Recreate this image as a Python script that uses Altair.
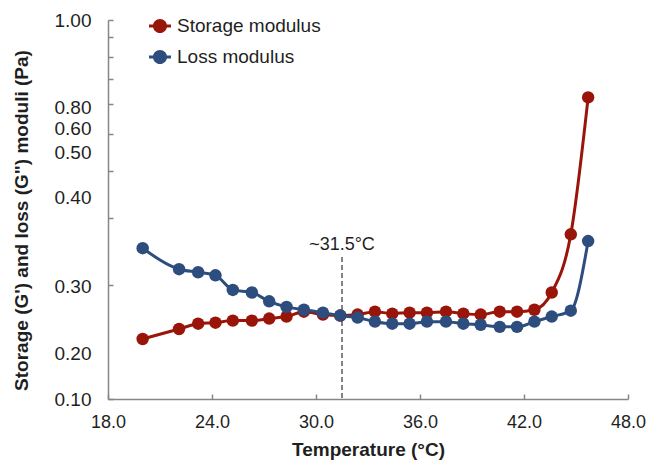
import altair as alt
import pandas as pd

# Temperature sweep (°C) and measured moduli (Pa)
temperature = [20.0, 22.1, 23.2, 24.2, 25.2, 26.3, 27.3, 28.3, 29.3, 30.4, 31.4, 32.4, 33.4,
               34.4, 35.4, 36.4, 37.5, 38.5, 39.5, 40.6, 41.6, 42.6, 43.6, 44.7, 45.7]
storage_modulus = [0.144, 0.153, 0.158, 0.159, 0.161, 0.161, 0.163, 0.165, 0.170, 0.167, 0.166,
                   0.167, 0.170, 0.168, 0.169, 0.169, 0.170, 0.168, 0.167, 0.170, 0.170, 0.172,
                   0.191, 0.272, 0.625]
loss_modulus = [0.250, 0.220, 0.216, 0.212, 0.194, 0.191, 0.181, 0.175, 0.172, 0.169, 0.166,
                0.164, 0.160, 0.158, 0.158, 0.160, 0.160, 0.158, 0.157, 0.155, 0.155, 0.160,
                0.165, 0.171, 0.261]

series_names = ["Storage modulus", "Loss modulus"]
series_colors = ["#9A1509", "#2C4D7D"]

# Axis ticks and labels
x_ticks = [18, 24, 30, 36, 42, 48]
y_minor_ticks = [0.1, 0.2, 0.3, 0.4, 0.5, 0.6, 0.7, 0.8, 0.9, 1.0]
y_tick_labels = ["1.00", "0.80", "0.60", "0.50", "0.40", "0.30", "0.20", "0.10"]
y_label_at = [1.0, 0.589, 0.516, 0.448, 0.341, 0.1975, 0.132, 0.1]

# Gel transition marker
transition_temp = [31.5]
transition_top = [0.237]
transition_text = ["~31.5°C"]

FONT = "Liberation Sans"
TEXT = "#1f1f1f"
AXIS_GREY = "#868686"
W, H = 520, 379

df = pd.DataFrame({
    "Temperature": temperature * 2,
    "Modulus": storage_modulus + loss_modulus,
    "Series": [series_names[0]] * len(temperature) + [series_names[1]] * len(temperature),
})
marker_df = pd.DataFrame({
    "Temperature": transition_temp,
    "Top": transition_top,
    "Bottom": [0.1],
    "Label": transition_text,
})

x_scale = alt.Scale(domain=[18, 48], nice=False)
y_scale = alt.Scale(type="log", domain=[0.1, 1.0], nice=False)
stroke_scale = alt.Scale(domain=series_names, range=series_colors)
fill_scale = alt.Scale(domain=series_names, range=series_colors)

label_expr = " : ".join(
    f"abs(datum.value - {v}) < 1e-6 ? '{t}'" for v, t in zip(y_label_at, y_tick_labels)
) + " : ''"

x_main_axis = alt.Axis(
    values=x_ticks, format=".1f", ticks=False, tickSize=0, labelPadding=14,
    labelFontSize=18, labelFlush=False, labelOverlap=False, grid=False,
    domainColor=AXIS_GREY, domainWidth=1.5,
    title="Temperature (°C)", titleFontSize=19, titleFontWeight="bold", titlePadding=9,
)
y_main_axis = alt.Axis(
    values=y_label_at, labelExpr=label_expr, ticks=False, tickSize=0, labelPadding=17,
    labelFontSize=19, labelOverlap=False, grid=False,
    domainColor=AXIS_GREY, domainWidth=1.5,
    title="Storage (G') and loss (G\") moduli (Pa)", titleFontSize=19,
    titleFontWeight="bold", titleX=-87, titleY=200, titleAngle=270,
    titleAlign="center", titleBaseline="middle",
)
# Inward-pointing tick marks, drawn by axes placed on the opposite side
x_tick_axis = alt.Axis(
    orient="top", offset=-H, values=x_ticks, labels=False, domain=False,
    tickSize=5, tickColor=AXIS_GREY, tickWidth=1.5, grid=False, title=None,
)
y_tick_axis = alt.Axis(
    orient="right", offset=-W, values=y_minor_ticks, labels=False, domain=False,
    tickSize=5, tickColor=AXIS_GREY, tickWidth=1.5, grid=False, title=None,
)

# Legend glyph: a short line with a filled circle on it
legend_symbol = (
    "M-1,-0.136H-0.6V0.136H-1Z "
    "M0.6,-0.136H1V0.136H0.6Z "
    "M-0.64,0A0.64,0.64,0,1,1,0.64,0A0.64,0.64,0,1,1,-0.64,0Z"
)
legend = alt.Legend(
    orient="none", legendX=41, legendY=-5, title=None, direction="vertical",
    symbolType=legend_symbol, symbolSize=484, symbolStrokeWidth=0, symbolOpacity=1,
    labelFontSize=19, labelFont=FONT, labelColor=TEXT, labelOffset=6,
    rowPadding=10, padding=0,
)

base = alt.Chart(df)


def series_layers(name, x_axis, y_axis):
    sub = base.transform_filter(alt.datum.Series == name)
    line = sub.mark_line(strokeWidth=3, interpolate="monotone").encode(
        x=alt.X("Temperature:Q", scale=x_scale, axis=x_axis),
        y=alt.Y("Modulus:Q", scale=y_scale, axis=y_axis),
        stroke=alt.Stroke("Series:N", scale=stroke_scale, legend=legend),
    )
    pts = sub.mark_point(filled=True, size=155, opacity=1, strokeWidth=0).encode(
        x=alt.X("Temperature:Q", scale=x_scale, axis=None),
        y=alt.Y("Modulus:Q", scale=y_scale, axis=None),
        fill=alt.Fill("Series:N", scale=fill_scale, legend=legend),
    )
    return line, pts


marker = alt.Chart(marker_df)
rule = marker.mark_rule(strokeDash=[5, 3], strokeWidth=1.5, color="#5a5a5a").encode(
    x=alt.X("Temperature:Q", scale=x_scale, axis=x_tick_axis),
    y=alt.Y("Top:Q", scale=y_scale, axis=y_tick_axis),
    y2="Bottom:Q",
)
note = marker.mark_text(fontSize=18, font=FONT, color=TEXT, dy=-7,
                        baseline="alphabetic", align="center").encode(
    x=alt.X("Temperature:Q", scale=x_scale, axis=None),
    y=alt.Y("Top:Q", scale=y_scale, axis=None),
    text="Label:N",
)

red_line, red_pts = series_layers(series_names[0], x_main_axis, y_main_axis)
blue_line, blue_pts = series_layers(series_names[1], None, None)

chart = alt.layer(rule, note, red_line, red_pts, blue_line, blue_pts).resolve_axis(
    x="independent", y="independent"
).properties(
    width=W, height=H, autosize=alt.AutoSizeParams(type="none"),
    padding={"left": 108, "top": 20, "right": 18, "bottom": 64},
).configure(font=FONT).configure_view(stroke=None).configure_axis(
    labelColor=TEXT, titleColor=TEXT, labelFont=FONT, titleFont=FONT,
)

chart.save("out.html", embed_options={"renderer": "svg", "actions": False})
